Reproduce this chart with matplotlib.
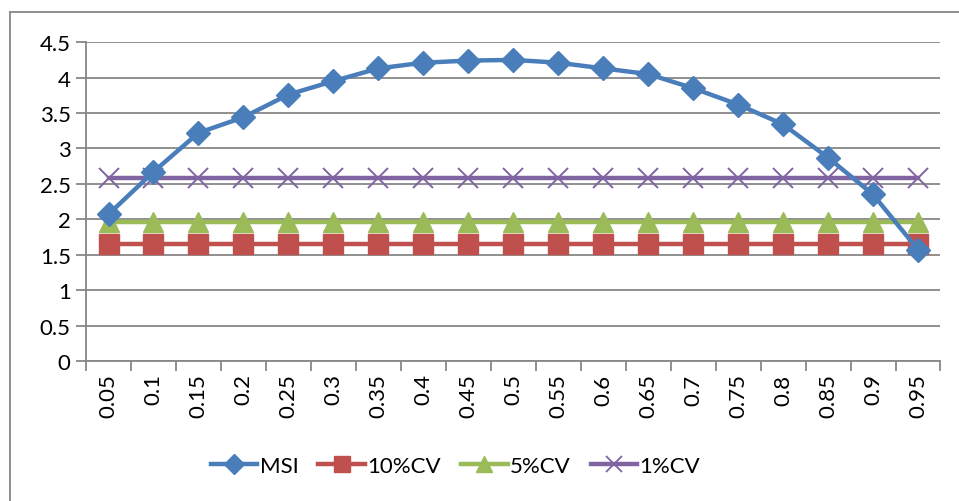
import matplotlib
matplotlib.use("Agg")
import matplotlib.pyplot as plt
from matplotlib.lines import Line2D

# data
categories = ["0.05", "0.1", "0.15", "0.2", "0.25", "0.3", "0.35", "0.4", "0.45", "0.5",
              "0.55", "0.6", "0.65", "0.7", "0.75", "0.8", "0.85", "0.9", "0.95"]
msi = [2.07, 2.67, 3.22, 3.44, 3.76, 3.95, 4.13, 4.21, 4.24, 4.25,
       4.21, 4.13, 4.05, 3.85, 3.62, 3.34, 2.87, 2.35, 1.57]
cv10 = [1.645] * len(categories)
cv5 = [1.96] * len(categories)
cv1 = [2.576] * len(categories)
y_ticks = [0, 0.5, 1, 1.5, 2, 2.5, 3, 3.5, 4, 4.5]

plt.rcParams["font.family"] = ["Lato", "DejaVu Sans"]

fig = plt.figure(figsize=(9.59, 5.02), dpi=100)
ax = fig.add_axes([0.0897, 0.279, 0.891, 0.635])

x = list(range(len(categories)))
grid_color = "#878787"

ax.plot(x, cv10, color="#C0504D", lw=3.2, marker="s", ms=14, zorder=3)
ax.plot(x, cv5, color="#9BBB59", lw=3.2, marker="^", ms=15, zorder=3)
ax.plot(x, cv1, color="#8064A2", lw=3.2, marker="x", ms=14, mew=1.4, zorder=3)
ax.plot(x, msi, color="#4A7EBB", lw=3.2, marker="D", ms=12, zorder=4)

ax.set_xlim(-0.5, len(categories) - 0.5)
ax.set_ylim(0, 4.5)
ax.set_yticks(y_ticks)
ax.set_yticklabels([f"{v:g}" for v in y_ticks], fontsize=16)
ax.yaxis.grid(True, color=grid_color, lw=1.3)
ax.set_axisbelow(True)

ax.set_xticks(x)
ax.set_xticklabels(categories, rotation=90, fontsize=16)
ax.set_xticks([i - 0.5 for i in range(len(categories) + 1)], minor=True)
ax.tick_params(axis="x", which="major", length=0, pad=9)
ax.tick_params(axis="x", which="minor", length=7, color=grid_color, width=1.3)
ax.tick_params(axis="y", length=7, color=grid_color, width=1.3, pad=4)

for side in ["top", "right"]:
    ax.spines[side].set_visible(False)
for side in ["left", "bottom"]:
    ax.spines[side].set_color(grid_color)
    ax.spines[side].set_linewidth(1.3)

# outer chart border (left and top edges visible)
fig.add_artist(Line2D([0.0104, 0.0104], [0, 0.974], color=grid_color, lw=1.3))
fig.add_artist(Line2D([0.0104, 1.0], [0.974, 0.974], color=grid_color, lw=1.3))

handles = [
    Line2D([], [], color="#4A7EBB", lw=3.2, marker="D", ms=10),
    Line2D([], [], color="#C0504D", lw=3.2, marker="s", ms=12),
    Line2D([], [], color="#9BBB59", lw=3.2, marker="^", ms=12),
    Line2D([], [], color="#8064A2", lw=3.2, marker="x", ms=11, mew=1.3),
]
fig.legend(handles, ["MSI", "10%CV", "5%CV", "1%CV"], loc="center",
           bbox_to_anchor=(0.475, 0.07), ncol=4, frameon=False, fontsize=16,
           handlelength=2.1, handletextpad=0.1, columnspacing=0.9)

fig.savefig("out.png", dpi=100)
